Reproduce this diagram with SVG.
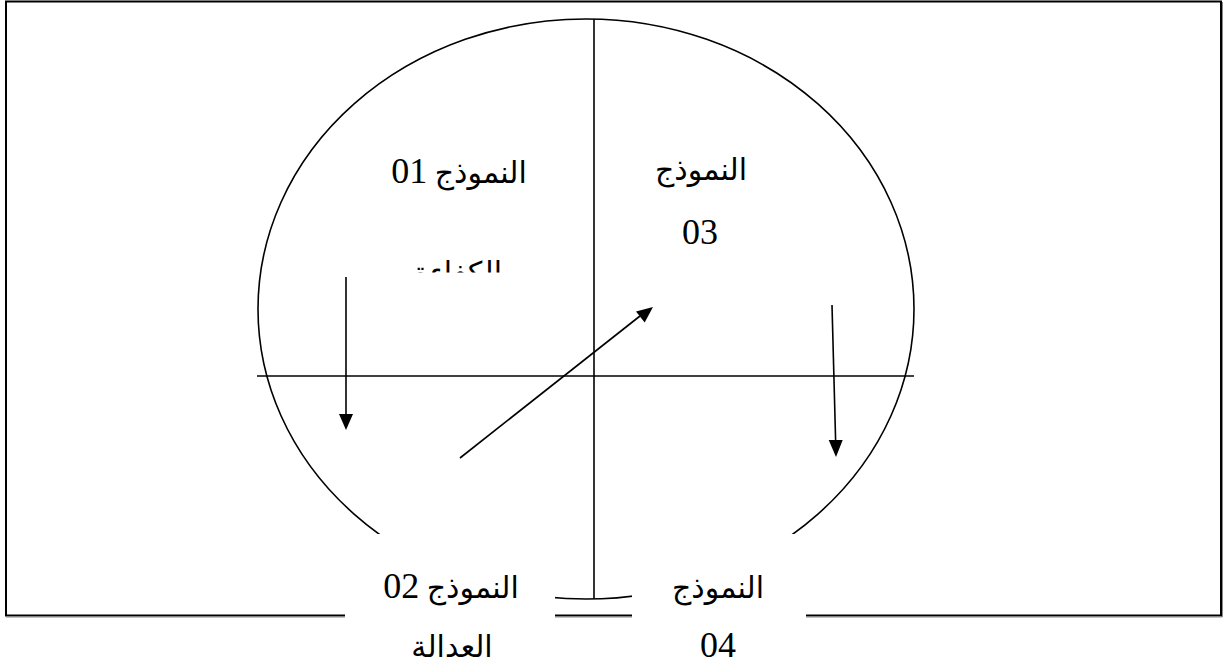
<svg xmlns="http://www.w3.org/2000/svg" width="1223" height="666" viewBox="0 0 1223 666">
<style>
.ln{stroke:#000;stroke-width:1.6;fill:none}
.tx{font-family:"Liberation Serif","Times New Roman","DejaVu Sans",serif;font-size:30px;fill:#000;text-anchor:middle}
.num{font-size:36px}
.box{fill:#fff;stroke:none}
</style>
<defs>
<clipPath id="clip01"><rect x="360" y="100" width="200" height="172.5"/></clipPath>
</defs>
<rect width="1223" height="666" fill="#fff"/>
<g id="frame">
<rect x="6" y="1.5" width="1215" height="614" fill="none" stroke="#000" stroke-width="2"/>
<line x1="6" y1="617" x2="1222" y2="617" stroke="#888" stroke-width="1"/>
<line x1="1222.5" y1="2" x2="1222.5" y2="617" stroke="#888" stroke-width="1"/>
</g>
<g id="ellipse"><ellipse class="ln" cx="586" cy="309" rx="328" ry="290"/></g>
<g id="axes">
<line class="ln" x1="594" y1="19" x2="594" y2="599"/>
<line class="ln" x1="257" y1="376" x2="914" y2="376"/>
</g>
<g id="connectors">
<line class="ln" x1="346" y1="277" x2="346" y2="414" stroke-width="2"/>
<path d="M339,414 L353,414 L346,430 Z" fill="#000"/>
<line class="ln" x1="832" y1="305" x2="835.6" y2="440" stroke-width="2"/>
<path d="M828.7,440 L842.7,440 L836,457 Z" fill="#000"/>
<line class="ln" x1="460" y1="458" x2="640" y2="316" stroke-width="2"/>
<path d="M653,307 L644.7,322.5 L636,311.5 Z" fill="#000"/>
</g>
<g id="node01">
<text class="tx" x="459" y="183">النموذج <tspan class="num">01</tspan></text>
<text class="tx" x="458" y="283" clip-path="url(#clip01)">الكفاءة</text>
</g>
<g id="node03">
<text class="tx" x="701" y="180">النموذج</text>
<text class="tx num" x="700" y="244">03</text>
</g>
<g id="node02">
<rect class="box" x="345" y="534" width="210" height="132"/>
<text class="tx" x="451" y="598">النموذج <tspan class="num">02</tspan></text>
<text class="tx" x="452" y="657">العدالة</text>
</g>
<g id="node04">
<rect class="box" x="632" y="534" width="174" height="132"/>
<text class="tx" x="718" y="598">النموذج</text>
<text class="tx num" x="718" y="657">04</text>
</g>
</svg>
